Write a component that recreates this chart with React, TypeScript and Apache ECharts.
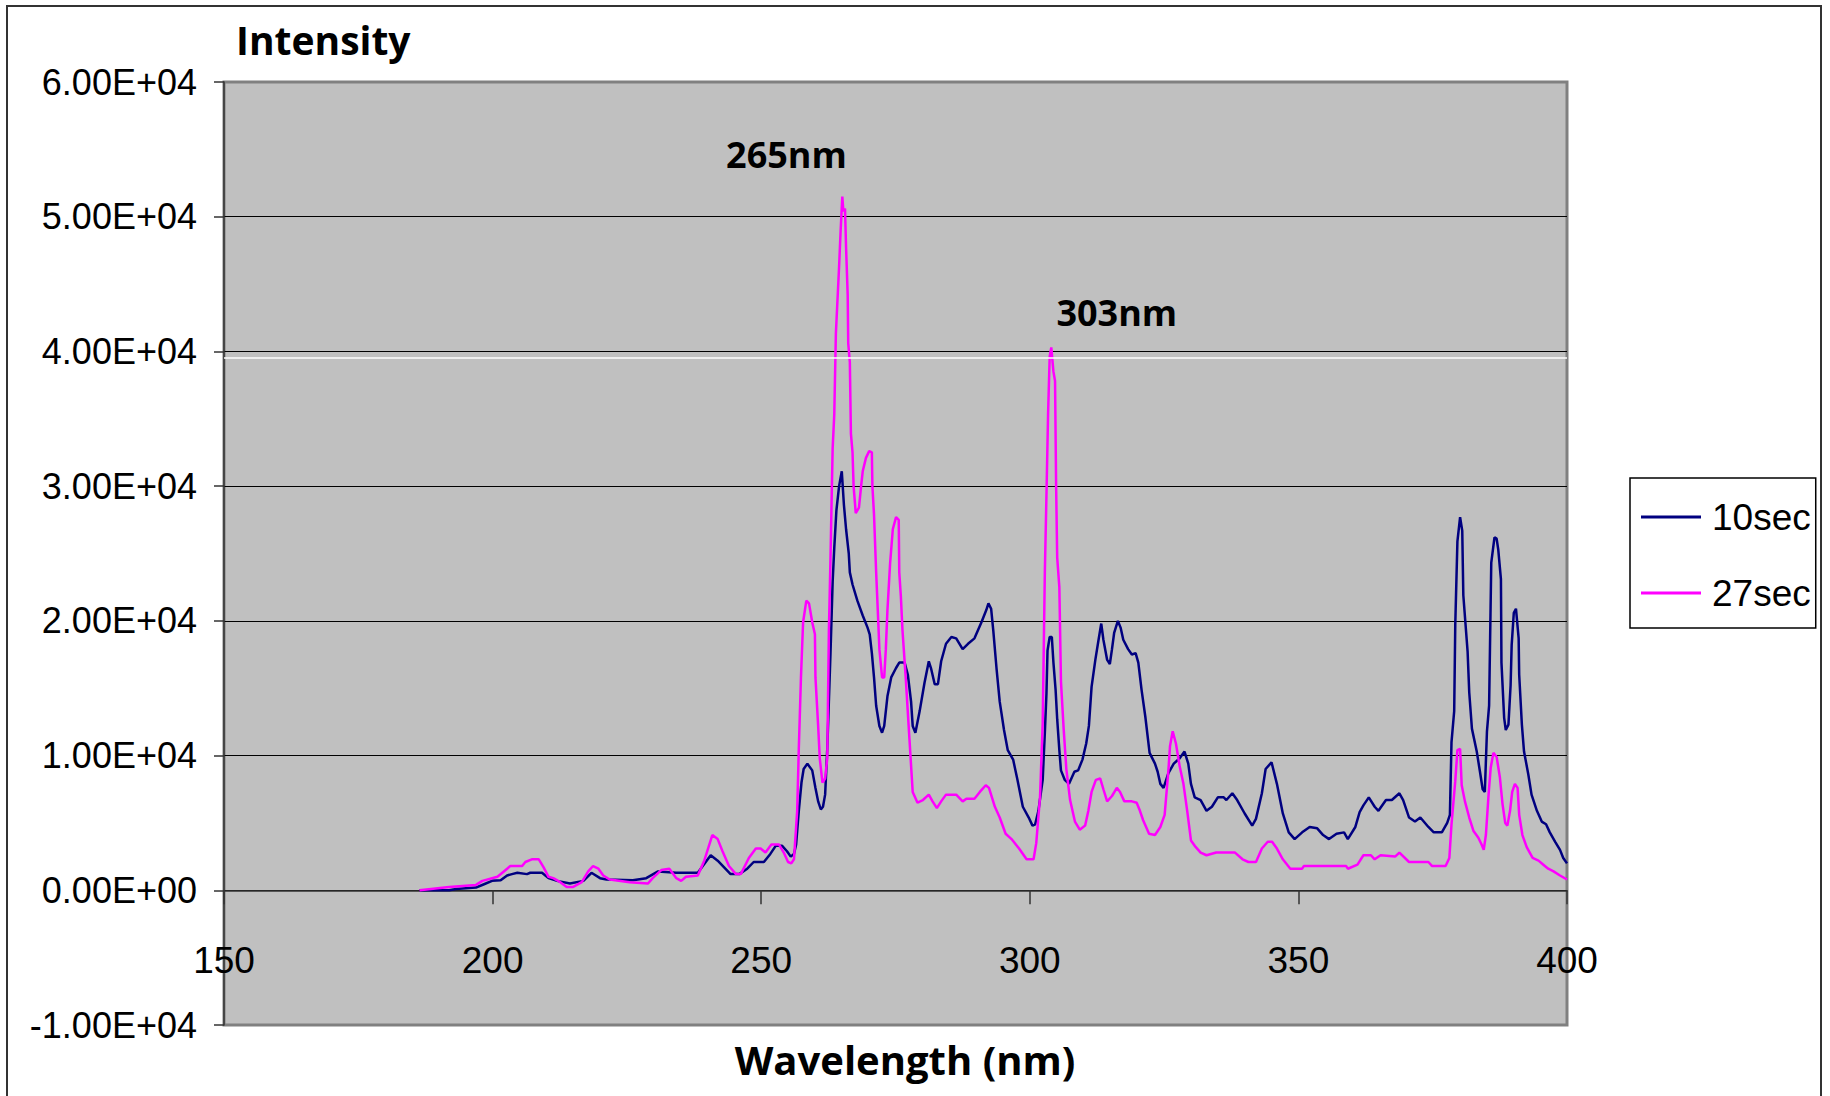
import React, { useEffect, useRef } from "react";
import * as echarts from "echarts";

const xTicks = [150, 200, 250, 300, 350, 400];
const yTickValues = [-10000, 0, 10000, 20000, 30000, 40000, 50000, 60000];
const yTickLabels = ["-1.00E+04", "0.00E+00", "1.00E+04", "2.00E+04", "3.00E+04", "4.00E+04", "5.00E+04", "6.00E+04"];
const seriesNames = ["10sec", "27sec"];
const seriesColors = ["#000080", "#FF00FF"];
const chartTitle = "Intensity";
const xAxisTitle = "Wavelength (nm)";
const peakLabels = [
  { name: "265nm", coord: [254.7, 54600] },
  { name: "303nm", coord: [316.2, 42860] },
];
const whiteLineValue = 39500;

// [wavelength (nm), intensity]
const series10sec: [number, number][] = [
  [186.4, 0], [191.9, 0], [193.2, 100], [196.9, 200], [198.4, 450], [199.9, 700], [201.5, 750], [202.7, 1100],
  [203.6, 1200], [204.6, 1300], [206.4, 1200], [207.0, 1300], [209.2, 1300], [210.4, 900], [212.0, 700], [214.4, 500],
  [216.9, 700], [218.4, 1300], [220.0, 900], [221.2, 800], [226.1, 750], [228.6, 900], [230.8, 1400], [234.2, 1300],
  [238.2, 1300], [240.6, 2600], [241.9, 2200], [243.1, 1700], [244.3, 1200], [245.9, 1200], [247.4, 1600], [248.6, 2100],
  [250.5, 2100], [251.7, 2700], [252.7, 3300], [253.9, 3300], [254.8, 2900], [255.5, 2500], [256.1, 2700], [256.5, 3400],
  [257.0, 5900], [257.5, 8000], [257.9, 9000], [258.6, 9400], [259.5, 8900], [260.1, 7600], [260.6, 6600], [261.1, 6000],
  [261.5, 6200], [261.9, 7100], [262.3, 10500], [262.9, 17600], [263.3, 22900], [263.6, 25400], [264.0, 28200], [264.5, 30000],
  [265.0, 31100], [265.4, 28600], [265.8, 26800], [266.3, 25000], [266.5, 23600], [267.0, 22700], [267.9, 21500], [268.9, 20400],
  [269.8, 19500], [270.2, 19000], [270.6, 17600], [271.0, 15800], [271.4, 13700], [272.0, 12200], [272.5, 11700], [272.9, 12200],
  [273.5, 14400], [274.2, 15800], [275.1, 16500], [275.7, 16900], [276.7, 16900], [277.3, 16000], [277.9, 14000], [278.2, 12200],
  [278.7, 11700], [279.5, 13300], [280.4, 15400], [281.2, 17000], [281.6, 16500], [282.3, 15300], [282.9, 15300], [283.5, 17000],
  [284.4, 18300], [285.4, 18800], [286.3, 18700], [287.5, 17900], [288.5, 18300], [289.7, 18700], [291.0, 19900], [291.9, 20800],
  [292.3, 21300], [292.8, 20900], [293.2, 19300], [293.8, 16500], [294.4, 14000], [295.2, 11900], [295.9, 10400], [296.9, 9700],
  [297.7, 8200], [298.7, 6200], [299.8, 5400], [300.5, 4800], [301.0, 4900], [301.6, 5900], [302.4, 8200], [302.8, 11700],
  [303.1, 14600], [303.3, 17800], [303.7, 18800], [304.1, 18800], [304.4, 16900], [304.8, 14900], [305.1, 12700], [305.5, 10400],
  [305.8, 8900], [306.5, 8200], [307.3, 7900], [308.3, 8800], [309.0, 8900], [309.8, 9700], [310.5, 10900], [311.0, 12200],
  [311.5, 15100], [312.2, 17100], [312.8, 18600], [313.3, 19800], [313.7, 18600], [314.4, 17100], [314.9, 16800], [315.3, 17900],
  [315.7, 19100], [316.4, 20000], [316.9, 19500], [317.4, 18600], [318.3, 17900], [319.0, 17500], [319.7, 17600], [320.2, 16900],
  [320.8, 14900], [321.5, 12900], [322.3, 10200], [323.3, 9400], [323.8, 8800], [324.3, 7900], [324.9, 7600], [325.8, 8700],
  [326.8, 9400], [327.9, 9800], [328.8, 10300], [329.5, 9400], [330.0, 7900], [330.7, 6900], [331.8, 6700], [332.9, 5900],
  [333.9, 6200], [335.0, 6900], [336.1, 6900], [336.6, 6700], [337.7, 7200], [338.6, 6700], [340.0, 5700], [341.4, 4800],
  [342.1, 5300], [343.2, 7200], [343.9, 9000], [345.0, 9500], [346.0, 7900], [347.1, 5700], [348.2, 4300], [349.3, 3800],
  [350.7, 4300], [352.1, 4700], [353.5, 4600], [354.6, 4100], [355.7, 3800], [357.1, 4200], [358.5, 4300], [359.2, 3800],
  [360.6, 4700], [361.4, 5800], [362.1, 6300], [363.1, 6900], [364.2, 6200], [364.9, 5900], [366.3, 6700], [367.4, 6700],
  [368.8, 7200], [369.5, 6700], [370.6, 5400], [371.7, 5100], [372.7, 5400], [374.2, 4700], [375.2, 4300], [376.7, 4300],
  [377.7, 5000], [378.2, 5600], [378.5, 11000], [379.0, 13300], [379.2, 19700], [379.6, 25900], [380.1, 27700], [380.5, 26700],
  [380.7, 21900], [381.5, 17700], [381.8, 14700], [382.3, 12000], [383.2, 10300], [383.8, 8800], [384.3, 7500], [384.7, 7300],
  [385.1, 11800], [385.5, 13700], [385.9, 24300], [386.5, 26200], [386.9, 26100], [387.2, 25300], [387.7, 23100], [387.8, 16900],
  [388.3, 12800], [388.6, 11900], [389.1, 12300], [389.5, 15200], [389.7, 18200], [390.1, 20600], [390.5, 20900], [391.0, 18700],
  [391.1, 16000], [391.6, 12300], [392.0, 10300], [392.8, 8600], [393.4, 7100], [394.4, 5900], [395.3, 5100], [396.1, 4900],
  [396.8, 4300], [397.8, 3600], [398.7, 3000], [399.3, 2400], [400.0, 2000],
];

const series27sec: [number, number][] = [
  [186.4, 0], [191.9, 250], [196.9, 400], [198.1, 700], [200.9, 1000], [202.1, 1400], [203.3, 1800], [205.5, 1800],
  [206.1, 2100], [207.3, 2300], [208.6, 2300], [209.5, 1700], [210.4, 1000], [211.3, 900], [212.6, 600], [213.8, 250],
  [215.0, 250], [216.6, 600], [217.8, 1400], [218.7, 1800], [219.7, 1600], [220.6, 1100], [221.8, 800], [225.5, 600],
  [228.9, 500], [229.8, 900], [231.4, 1500], [232.9, 1600], [234.2, 900], [235.1, 700], [236.0, 1000], [238.2, 1100],
  [239.4, 2200], [240.9, 4100], [241.9, 3800], [242.8, 2900], [244.0, 1800], [245.3, 1200], [246.2, 1200], [247.7, 2400],
  [249.0, 3100], [249.9, 3100], [250.8, 2800], [251.9, 3400], [253.3, 3400], [254.2, 2800], [255.0, 2100], [255.6, 2000],
  [256.1, 2300], [256.7, 5900], [257.0, 10500], [257.4, 15800], [257.8, 19900], [258.4, 21500], [258.9, 21300], [259.5, 19900],
  [260.0, 19000], [260.1, 15800], [260.6, 12200], [260.9, 9800], [261.4, 8000], [261.9, 8300], [262.3, 9800], [262.6, 19300],
  [262.9, 24700], [263.3, 32800], [263.6, 35300], [263.9, 41300], [264.5, 46300], [264.8, 49100], [265.1, 51500], [265.3, 50400],
  [265.6, 50600], [265.8, 47700], [266.1, 44200], [266.2, 40600], [266.5, 39200], [266.7, 33900], [267.0, 32500], [267.2, 30000],
  [267.6, 28000], [268.2, 28400], [268.6, 30000], [268.9, 31100], [269.5, 32100], [270.1, 32600], [270.6, 32500], [270.7, 30000],
  [271.0, 27900], [271.4, 23600], [271.7, 20800], [272.0, 17900], [272.5, 15800], [272.9, 15800], [273.2, 17900], [273.5, 20800],
  [274.0, 24300], [274.5, 26800], [275.1, 27700], [275.6, 27500], [275.7, 23600], [276.0, 21800], [276.3, 19300], [276.9, 15800],
  [277.6, 11200], [278.2, 7300], [279.1, 6500], [280.1, 6700], [281.2, 7100], [281.9, 6600], [282.7, 6100], [283.5, 6600],
  [284.4, 7100], [286.3, 7100], [287.5, 6600], [288.2, 6800], [289.7, 6800], [290.7, 7300], [291.8, 7800], [292.4, 7600],
  [293.5, 6200], [294.4, 5400], [295.5, 4200], [296.6, 3800], [298.0, 3100], [299.4, 2300], [300.7, 2300], [301.2, 3500],
  [301.9, 6900], [302.4, 12400], [302.8, 23600], [303.1, 29300], [303.4, 35300], [303.7, 39600], [304.0, 40300], [304.4, 38500],
  [304.7, 37800], [304.9, 30000], [305.1, 24700], [305.5, 22500], [305.8, 15500], [306.3, 12000], [306.8, 9000], [307.5, 6700],
  [308.4, 5100], [309.3, 4500], [310.3, 4800], [310.9, 5900], [311.5, 7300], [312.3, 8200], [313.1, 8300], [313.7, 7500],
  [314.4, 6600], [315.3, 7000], [316.2, 7600], [316.8, 7300], [317.6, 6600], [319.0, 6600], [319.9, 6500], [320.5, 5900],
  [321.1, 5200], [322.2, 4200], [323.3, 4100], [324.3, 4700], [325.1, 5600], [325.8, 8900], [326.1, 10700], [326.6, 11800],
  [327.2, 10900], [327.9, 9200], [328.6, 7900], [329.3, 5900], [330.0, 3700], [330.7, 3300], [331.8, 2800], [332.9, 2600],
  [334.7, 2800], [338.2, 2800], [339.6, 2300], [340.7, 2100], [342.1, 2100], [343.2, 3100], [344.3, 3600], [345.1, 3600],
  [346.0, 3100], [347.1, 2300], [348.5, 1600], [350.7, 1600], [351.0, 1800], [358.9, 1800], [359.2, 1600], [361.0, 1900],
  [362.1, 2600], [363.5, 2600], [364.2, 2300], [365.3, 2600], [368.0, 2500], [368.8, 2800], [370.6, 2100], [374.2, 2100],
  [374.9, 1800], [377.4, 1800], [378.1, 2400], [378.5, 4900], [379.2, 8100], [379.6, 10400], [380.1, 10500], [380.4, 7800],
  [381.0, 6600], [381.8, 5400], [382.6, 4400], [383.5, 3900], [384.1, 3400], [384.5, 3000], [384.9, 4100], [385.4, 7100],
  [385.8, 9100], [386.3, 10200], [386.9, 9900], [387.5, 8400], [388.0, 6400], [388.5, 5000], [388.9, 4800], [389.4, 5900],
  [389.8, 7300], [390.3, 7900], [390.8, 7600], [391.1, 5600], [391.7, 4100], [392.5, 3200], [393.6, 2400], [394.7, 2200],
  [395.6, 1900], [396.5, 1600], [397.5, 1400], [398.7, 1100], [400.0, 800],
];

const labelFont = "'Liberation Sans', Arial, sans-serif";
const boldFont = "'Open Sans', 'Noto Sans', 'DejaVu Sans', sans-serif";

export default function App() {
  const ref = useRef<HTMLDivElement>(null);

  useEffect(() => {
    if (!ref.current) return;
    const chart = echarts.init(ref.current, undefined, { renderer: "svg" });
    const yMin = yTickValues[0];
    const yMax = yTickValues[yTickValues.length - 1];
    const yStep = yTickValues[1] - yTickValues[0];
    const xMin = xTicks[0];
    const xMax = xTicks[xTicks.length - 1];
    const xStep = xTicks[1] - xTicks[0];

    chart.setOption({
      animation: false,
      backgroundColor: "#ffffff",
      grid: {
        left: 224,
        top: 82,
        width: 1343,
        height: 943,
        show: true,
        backgroundColor: "#C0C0C0",
        borderColor: "#808080",
        borderWidth: 3,
        containLabel: false,
      },
      xAxis: [
        {
          type: "value",
          min: xMin,
          max: xMax,
          interval: xStep,
          axisLine: { show: true, onZero: true, lineStyle: { color: "#333333", width: 1.5 } },
          axisTick: { show: true, length: 14, lineStyle: { color: "#333333", width: 1.5 } },
          axisLabel: { show: false },
          splitLine: { show: false },
        },
        {
          type: "value",
          position: "bottom",
          min: xMin,
          max: xMax,
          interval: xStep,
          axisLine: { show: false, onZero: false },
          axisTick: { show: false },
          axisLabel: {
            inside: true,
            margin: 46,
            fontSize: 37,
            fontFamily: labelFont,
            color: "#000000",
            formatter: (v: number) => String(v),
          },
          splitLine: { show: false },
        },
      ],
      yAxis: {
        type: "value",
        min: yMin,
        max: yMax,
        interval: yStep,
        axisLine: { show: true, onZero: false, lineStyle: { color: "#333333", width: 1.5 } },
        axisTick: { show: true, length: 10, lineStyle: { color: "#333333", width: 1.5 } },
        axisLabel: {
          margin: 27,
          fontSize: 36,
          fontFamily: labelFont,
          color: "#000000",
          formatter: (v: number) => yTickLabels[Math.round((v - yMin) / yStep)] ?? "",
        },
        splitLine: {
          show: true,
          showMinLine: false,
          showMaxLine: false,
          lineStyle: { color: "#000000", width: 1 },
        },
      },
      legend: {
        orient: "vertical",
        left: 1630,
        top: 478,
        padding: [18, 5, 14, 11],
        itemGap: 34,
        itemWidth: 60,
        itemHeight: 3,
        icon: "rect",
        borderColor: "#000000",
        borderWidth: 1.5,
        backgroundColor: "#ffffff",
        textStyle: {
          fontSize: 37,
          lineHeight: 42,
          fontFamily: labelFont,
          color: "#000000",
          padding: [0, 0, 0, 6],
        },
        data: seriesNames,
      },
      series: [
        {
          type: "line",
          name: seriesNames[0],
          xAxisIndex: 0,
          data: series10sec,
          showSymbol: false,
          symbol: "none",
          lineStyle: { color: seriesColors[0], width: 2.5 },
          itemStyle: { color: seriesColors[0] },
          markLine: {
            silent: true,
            symbol: ["none", "none"],
            label: { show: false },
            lineStyle: { color: "#ffffff", width: 1.5, type: "solid" },
            data: [{ yAxis: whiteLineValue }],
          },
        },
        {
          type: "line",
          name: seriesNames[1],
          xAxisIndex: 0,
          data: series27sec,
          showSymbol: false,
          symbol: "none",
          lineStyle: { color: seriesColors[1], width: 2.5 },
          itemStyle: { color: seriesColors[1] },
          markPoint: {
            symbol: "circle",
            symbolSize: 1,
            itemStyle: { color: "rgba(0,0,0,0)" },
            label: {
              show: true,
              position: "inside",
              formatter: "{b}",
              fontSize: 36,
              fontWeight: "bold",
              fontFamily: boldFont,
              color: "#000000",
            },
            data: peakLabels.map((p) => ({ name: p.name, coord: p.coord })),
          },
        },
      ],
      graphic: [
        {
          type: "rect",
          silent: true,
          shape: { x: 7, y: 6, width: 1814, height: 1100 },
          style: { fill: "none", stroke: "#333333", lineWidth: 2 },
        },
        {
          type: "text",
          x: 236,
          y: 39,
          style: {
            text: chartTitle,
            fontSize: 39,
            fontWeight: "bold",
            fontFamily: boldFont,
            fill: "#000000",
            align: "left",
            verticalAlign: "middle",
            textAlign: "left",
            textVerticalAlign: "middle",
          },
        },
        {
          type: "text",
          x: 905,
          y: 1059,
          style: {
            text: xAxisTitle,
            fontSize: 40,
            fontWeight: "bold",
            fontFamily: boldFont,
            fill: "#000000",
            align: "center",
            verticalAlign: "middle",
            textAlign: "center",
            textVerticalAlign: "middle",
          },
        },
      ],
    });

    return () => {
      chart.dispose();
    };
  }, []);

  return (
    <div
      ref={ref}
      style={{ position: "absolute", left: 0, top: 0, width: 1830, height: 1096 }}
    />
  );
}
